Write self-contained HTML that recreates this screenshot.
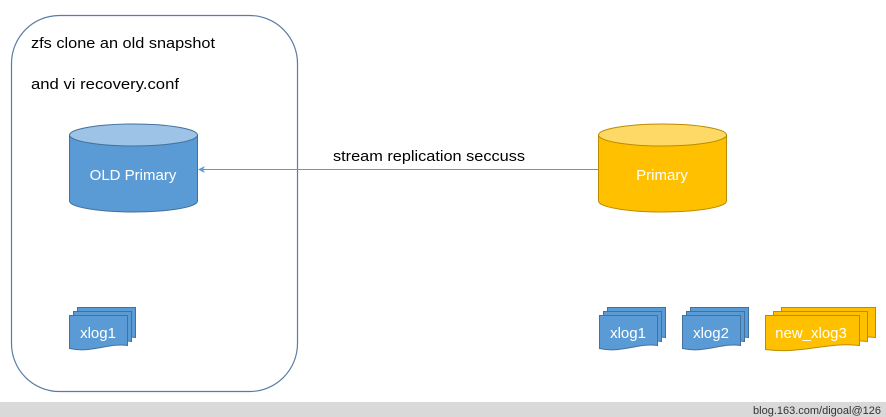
<!DOCTYPE html>
<html><head><meta charset="utf-8"><style>
html,body{margin:0;padding:0;background:#fff;}
svg{display:block;font-family:"Liberation Sans","DejaVu Sans",sans-serif;}
</style></head><body>
<svg width="886" height="417" viewBox="0 0 886 417" xmlns="http://www.w3.org/2000/svg">
<defs>
<path id="d" d="M0,0 H58 V30 C39,27 23,38 0,33 Z"/>
<path id="dw" d="M0,0 H94 V30 C65,26 35,39 0,34 Z"/>
</defs>
<rect x="11.5" y="15.5" width="286" height="376" rx="48" ry="48" fill="#fff" stroke="#5a7ca3" stroke-width="1.2"/>
<text x="31" y="48" font-size="15" fill="#000" textLength="184" lengthAdjust="spacingAndGlyphs">zfs clone an old snapshot</text>
<text x="31" y="89" font-size="15" fill="#000" textLength="148" lengthAdjust="spacingAndGlyphs">and vi recovery.conf</text>

<path d="M69.5,135 V201 A64,11 0 0 0 197.5,201 V135" fill="#5b9bd5" stroke="#41719c"/>
<ellipse cx="133.5" cy="135" rx="64" ry="11" fill="#9dc3e6" stroke="#41719c"/>
<text x="133" y="180" font-size="15" fill="#fff" text-anchor="middle">OLD Primary</text>

<path d="M598.5,135 V201 A64,11 0 0 0 726.5,201 V135" fill="#ffc000" stroke="#bc8c00"/>
<ellipse cx="662.5" cy="135" rx="64" ry="11" fill="#ffd966" stroke="#bc8c00"/>
<text x="662" y="180" font-size="15" fill="#fff" text-anchor="middle">Primary</text>

<line x1="598" y1="169.5" x2="203" y2="169.5" stroke="#5b9bd5" stroke-width="1"/>
<path d="M198,169.5 L205,166 L203,169.5 L205,173 Z" fill="#5b9bd5"/>
<text x="333" y="161" font-size="15" fill="#000" textLength="192" lengthAdjust="spacingAndGlyphs">stream replication seccuss</text>

<g fill="#5b9bd5" stroke="#41719c" stroke-width="1">
 <use href="#d" x="77.5" y="307.5"/><use href="#d" x="73.5" y="311.5"/><use href="#d" x="69.5" y="315.5"/>
 <use href="#d" x="607.5" y="307.5"/><use href="#d" x="603.5" y="311.5"/><use href="#d" x="599.5" y="315.5"/>
 <use href="#d" x="690.5" y="307.5"/><use href="#d" x="686.5" y="311.5"/><use href="#d" x="682.5" y="315.5"/>
</g>
<g fill="#ffc000" stroke="#bc8c00" stroke-width="1">
 <use href="#dw" x="781.5" y="307.5"/><use href="#dw" x="773.5" y="311.5"/><use href="#dw" x="765.5" y="315.5"/>
</g>
<text x="98" y="338" font-size="15" fill="#fff" text-anchor="middle">xlog1</text>
<text x="628" y="338" font-size="15" fill="#fff" text-anchor="middle">xlog1</text>
<text x="711" y="338" font-size="15" fill="#fff" text-anchor="middle">xlog2</text>
<text x="811" y="338" font-size="15" fill="#fff" text-anchor="middle">new_xlog3</text>

<rect x="0" y="402" width="886" height="15" fill="#d9d9d9"/>
<text x="881" y="414" font-size="11" fill="#333" text-anchor="end">blog.163.com/digoal@126</text>
</svg>
</body></html>
